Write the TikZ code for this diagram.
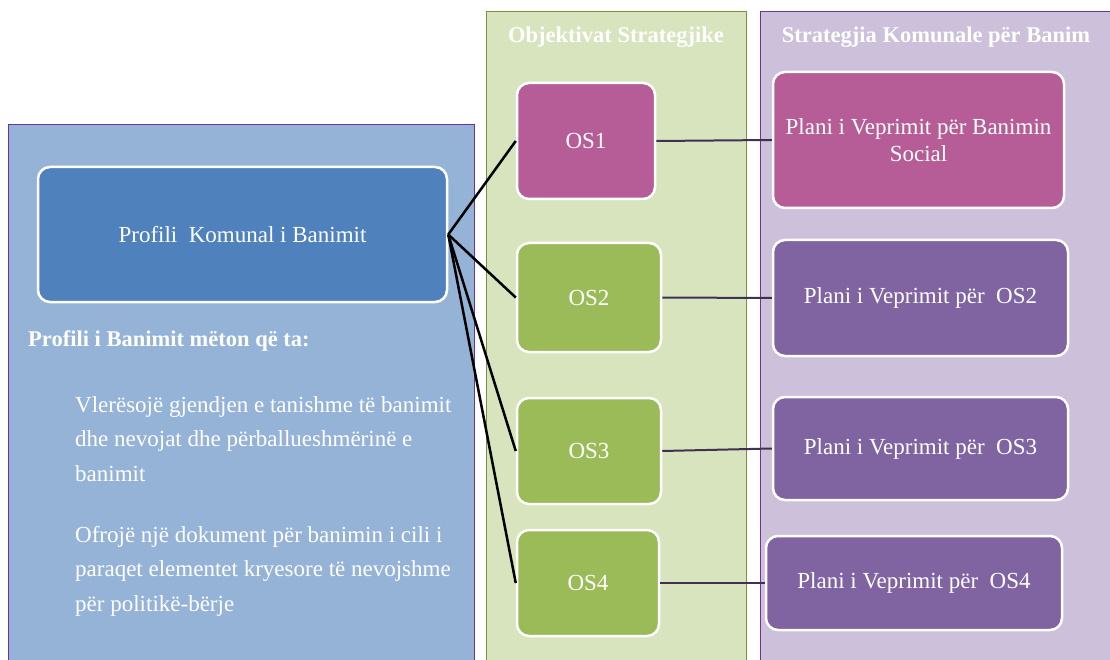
\documentclass[tikz,border=0pt]{standalone}
\usepackage{fontspec}
\setmainfont{Liberation Serif}

\definecolor{leftfill}{HTML}{95B3D7}
\definecolor{profilefill}{HTML}{4F81BD}
\definecolor{greenfill}{HTML}{D7E4BD}
\definecolor{greenline}{HTML}{77933C}
\definecolor{purplefill}{HTML}{CCC0DA}
\definecolor{purpleline}{HTML}{7030A0}
\definecolor{osgreen}{HTML}{9BBB59}
\definecolor{osmagenta}{HTML}{B65C97}
\definecolor{planpurple}{HTML}{8064A2}
\definecolor{linkdark}{HTML}{3F3151}

\tikzstyle{box}=[rectangle,rounded corners=12pt,draw=white,line width=2.5pt,text=white,inner sep=0pt,align=center,font=\fontsize{23}{27}\selectfont]
\tikzstyle{osbox}=[box,fill=osgreen]
\tikzstyle{planbox}=[box,fill=planpurple]
\tikzstyle{title}=[text=white,font=\fontsize{22.5}{27}\selectfont\bfseries]
\tikzstyle{bodytext}=[text=white,align=left,inner sep=0pt,anchor=west,font=\fontsize{23}{34.5}\selectfont]
\tikzstyle{mainedge}=[black,line width=2.5pt]
\tikzstyle{linkedge}=[linkdark,line width=2pt]

\begin{document}
\begin{tikzpicture}[x=1pt,y=-1pt]
\useasboundingbox (0,0) rectangle (1110,660);
% panels
\fill[leftfill] (8,125) rectangle (474,660);
\draw[purpleline,line width=1pt] (8,660) -- (8,125) -- (474,125) -- (474,660);
\fill[greenfill] (486,12) rectangle (746,660);
\draw[greenline,line width=1pt] (486,660) -- (486,12) -- (746,12) -- (746,660);
\fill[purplefill] (760,12) rectangle (1110,660);
\draw[purpleline,line width=1pt] (760,660) -- (760,12) -- (1110,12);
\node[title] (objtitle) at (616,37) {Objektivat Strategjike};
\node[title] (strtitle) at (936,37) {Strategjia Komunale për Banim};
% left column
\node[box,fill=profilefill,minimum width=409pt,minimum height=135pt] (profile) at (242.5,234.5) {Profili \ Komunal i Banimit};
\node[title,anchor=west,inner sep=0pt] (profhead) at (28,341) {Profili i Banimit mëton që ta:};
\node[bodytext] (point1) at (75,439) {Vlerësojë gjendjen e tanishme të banimit\\dhe nevojat dhe përballueshmërinë e\\banimit};
\node[bodytext] (point2) at (75,571) {Ofrojë një dokument për banimin i cili i\\paraqet elementet kryesore të nevojshme\\për politikë-bërje};
% objectives
\node[box,fill=osmagenta,minimum width=138pt,minimum height=116pt] (os1) at (586,141) {OS1};
\node[osbox,minimum width=144pt,minimum height=109pt] (os2) at (589,297.5) {OS2};
\node[osbox,minimum width=144pt,minimum height=106pt] (os3) at (589,451) {OS3};
\node[osbox,minimum width=142pt,minimum height=106pt] (os4) at (588,583) {OS4};
% action plans
\node[box,fill=osmagenta,minimum width=291pt,minimum height=136pt] (plan1) at (918.5,140) {Plani i Veprimit për Banimin\\Social};
\node[planbox,minimum width=295pt,minimum height=116pt] (plan2) at (920.5,298) {Plani i Veprimit për \ OS2};
\node[planbox,minimum width=295pt,minimum height=103pt] (plan3) at (920.5,448.5) {Plani i Veprimit për \ OS3};
\node[planbox,minimum width=296pt,minimum height=94pt] (plan4) at (914,583) {Plani i Veprimit për \ OS4};
% connectors
\draw[mainedge] (profile.east) -- (os1.west);
\draw[mainedge] (profile.east) -- (os2.west);
\draw[mainedge] (profile.east) -- (os3.west);
\draw[mainedge] (profile.east) -- (os4.west);
\draw[linkedge] (os1.east) -- (plan1.west);
\draw[linkedge] (os2.east) -- (plan2.west);
\draw[linkedge] (os3.east) -- (plan3.west);
\draw[linkedge] (os4.east) -- (plan4.west);
\end{tikzpicture}
\end{document}
